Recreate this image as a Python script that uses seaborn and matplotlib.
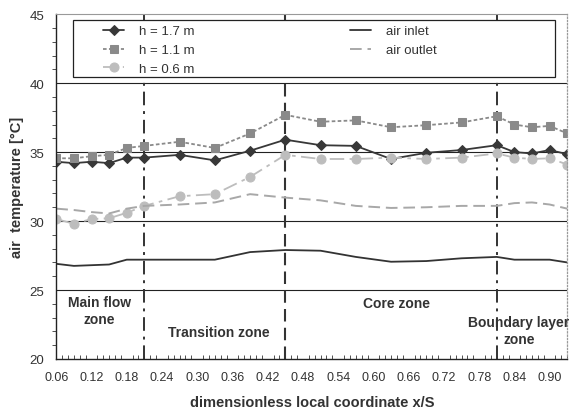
import matplotlib
matplotlib.use("Agg")
import matplotlib.pyplot as plt
import matplotlib.patches as mpatches
from matplotlib.ticker import MultipleLocator, FormatStrFormatter
import pandas as pd
import seaborn as sns

# data
x_pos = [0.06, 0.09, 0.12, 0.15, 0.18, 0.21, 0.27, 0.33, 0.39, 0.45,
         0.51, 0.57, 0.63, 0.69, 0.75, 0.81, 0.84, 0.87, 0.90, 0.93]
h17 = [34.3, 34.2, 34.3, 34.2, 34.6, 34.6, 34.8, 34.4, 35.1, 35.9,
       35.5, 35.45, 34.5, 34.95, 35.15, 35.5, 35.0, 34.9, 35.15, 34.85]
h11 = [34.55, 34.55, 34.7, 34.8, 35.3, 35.45, 35.75, 35.3, 36.35, 37.7,
       37.2, 37.3, 36.8, 36.95, 37.15, 37.6, 37.0, 36.8, 36.9, 36.35]
h06 = [30.15, 29.8, 30.15, 30.2, 30.6, 31.1, 31.8, 31.95, 33.2, 34.8,
       34.5, 34.5, 34.6, 34.5, 34.6, 34.9, 34.6, 34.5, 34.55, 34.1]
air_inlet = [26.9, 26.75, 26.8, 26.85, 27.2, 27.2, 27.2, 27.2, 27.75, 27.9,
             27.85, 27.4, 27.05, 27.1, 27.3, 27.4, 27.2, 27.2, 27.2, 27.0]
air_outlet = [30.9, 30.8, 30.65, 30.55, 30.9, 31.1, 31.2, 31.35, 31.95, 31.7,
              31.5, 31.1, 30.95, 31.0, 31.1, 31.1, 31.3, 31.35, 31.2, 30.9]

zone_bounds = [0.21, 0.45, 0.81]
zone_labels = ["Main flow\nzone", "Transition zone", "Core zone", "Boundary layer\nzone"]

df = pd.DataFrame({"x": x_pos, "h17": h17, "h11": h11, "h06": h06,
                   "inlet": air_inlet, "outlet": air_outlet})

sns.set_style("white")
plt.rcParams['font.family'] = ['Liberation Sans', 'DejaVu Sans']

fig = plt.figure(figsize=(5.8, 4.1), dpi=100)
ax = fig.add_axes([0.097, 0.122, 0.881, 0.841])

# zone borders
ax.axvline(zone_bounds[0], color="#333333", lw=1.4, dashes=(7, 3, 1.5, 3), zorder=1)
ax.axvline(zone_bounds[1], color="#333333", lw=1.5, dashes=(6, 3), zorder=1)
ax.axvline(zone_bounds[2], color="#333333", lw=1.4, dashes=(7, 3, 1.5, 3), zorder=1)

# horizontal grid
for yy in [25, 30, 35, 40]:
    ax.axhline(yy, color="#222222", lw=0.8, zorder=0)

sns.lineplot(data=df, x="x", y="h17", ax=ax, color="#383838", lw=1.3,
             marker="D", markersize=5, markeredgecolor="#383838", label="h = 1.7 m")
sns.lineplot(data=df, x="x", y="h11", ax=ax, color="#8a8a8a", lw=1.3, dashes=(2, 1.3),
             marker="s", markersize=6, markeredgecolor="#8a8a8a", label="h = 1.1 m")
sns.lineplot(data=df, x="x", y="h06", ax=ax, color="#bdbdbd", lw=1.3, dashes=(8, 3, 2, 3),
             marker="o", markersize=6.5, markeredgecolor="#bdbdbd", label="h = 0.6 m")
sns.lineplot(data=df, x="x", y="inlet", ax=ax, color="#333333", lw=1.3, label="air inlet")
sns.lineplot(data=df, x="x", y="outlet", ax=ax, color="#a8a8a8", lw=1.4, dashes=(6, 3),
             label="air outlet")

ax.set_xlim(0.06, 0.93)
ax.set_ylim(20, 45)
ax.xaxis.set_major_locator(MultipleLocator(0.06))
ax.xaxis.set_minor_locator(MultipleLocator(0.01))
ax.xaxis.set_major_formatter(FormatStrFormatter("%.2f"))
ax.yaxis.set_major_locator(MultipleLocator(5))
ax.yaxis.set_minor_locator(MultipleLocator(1))
ax.tick_params(axis="x", which="major", direction="inout", length=6, width=0.8,
               color="#333333", labelsize=9, labelcolor="#333333", pad=6)
ax.tick_params(axis="x", which="minor", direction="in", length=3, width=0.6,
               color="#333333", bottom=True)
ax.tick_params(axis="y", which="major", direction="out", length=5, width=0.8,
               color="#333333", labelsize=9.5, labelcolor="#333333")
ax.tick_params(axis="y", which="minor", direction="out", length=3, width=0.6,
               color="#333333", left=True)

for side in ["left", "bottom"]:
    ax.spines[side].set_color("#222222")
    ax.spines[side].set_linewidth(1.0)
ax.spines["top"].set_color("#999999")
ax.spines["top"].set_linewidth(0.8)
ax.spines["right"].set_color("#999999")
ax.spines["right"].set_linewidth(0.9)
ax.spines["right"].set_linestyle(":")

ax.set_xlabel("dimensionless local coordinate x/S", fontsize=10.5, fontweight="bold",
              color="#333333", labelpad=8)
ax.set_ylabel("air  temperature [°C]", fontsize=10.5, fontweight="bold",
              color="#333333", labelpad=4)

# zone names
txt = dict(fontsize=10, fontweight="bold", color="#333333", ha="center", va="center",
           linespacing=1.25)
ax.text(0.134, 23.5, zone_labels[0], **txt)
ax.text(0.336, 21.95, zone_labels[1], **txt)
ax.text(0.639, 24.05, zone_labels[2], **txt)
ax.text(0.848, 22.05, zone_labels[3], **txt)

# legend box
box = mpatches.Rectangle((0.033, 0.817), 0.944, 0.166, transform=ax.transAxes,
                         facecolor="white", edgecolor="#222222", lw=0.9, zorder=5)
ax.add_patch(box)
handles, labels = ax.get_legend_handles_labels()
leg = ax.legend(handles, labels, ncol=2, loc="upper left", bbox_to_anchor=(0.092, 0.968),
                frameon=False, fontsize=9.5, handlelength=1.6, handletextpad=1.1,
                columnspacing=11.8, borderpad=0, borderaxespad=0, labelspacing=0.5)
leg.set_zorder(6)
for t in leg.get_texts():
    t.set_color("#333333")

fig.savefig("out.png", dpi=100)
